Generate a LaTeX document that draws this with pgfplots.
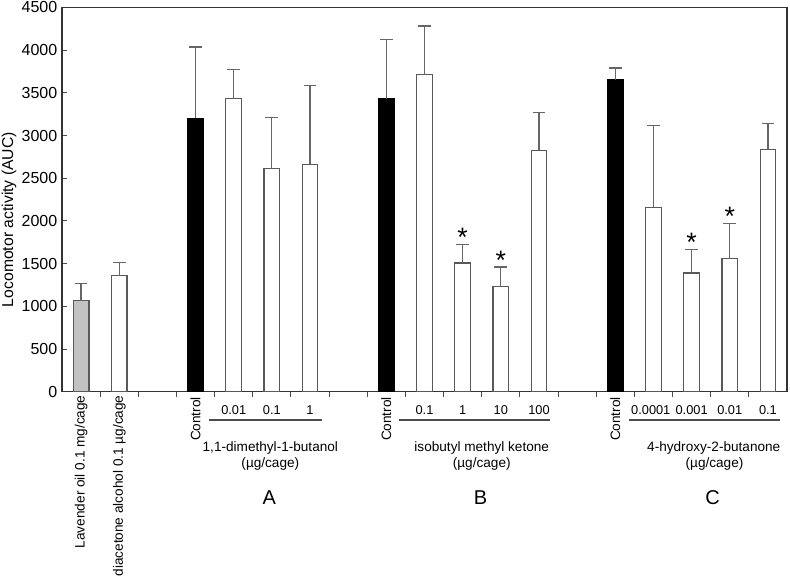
\documentclass[border=0pt]{standalone}
\usepackage{pgfplots}
\pgfplotsset{compat=1.18}
\usepackage{fontspec}
\setmainfont{Liberation Sans}
\begin{document}
\begin{tikzpicture}
\begin{axis}[
  name=ax,
  scale only axis,
  width=543.75pt, height=288.2pt,
  xmin=-0.5, xmax=18.5, ymin=0, ymax=4500,
  ytick={0,500,...,4500},
  xtick={0.5,1.5,...,17.5},
  xticklabels={},
  tick pos=left,
  tick align=inside,
  major tick length=4pt,
  axis line style={black!80, line width=0.8pt},
  tick style={black!70, line width=0.8pt},
  /pgf/number format/assume math mode=true,
  /pgf/number format/1000 sep={},
  yticklabel style={font=\fontsize{12}{14}\selectfont},
  ylabel={Locomotor activity (AUC)},
  ylabel style={font=\fontsize{11.8}{14}\selectfont, at={(axis description cs:-0.073,0.448)}, anchor=center},
  clip=false,
  ybar, bar width=0.41,
  error bars/y dir=plus, error bars/y explicit,
  error bars/error mark=|,
  error bars/error bar style={black!60, line width=0.9pt},
  error bars/error mark options={black!60, line width=0.9pt, mark size=4.8pt},
]
% gray bar (lavender oil)
\addplot[bar shift=0pt, fill=black!24, draw=black!65, line width=0.9pt]
  coordinates {(0,1068) +- (0,204)};
% control bars (black)
\addplot[bar shift=0pt, fill=black, draw=black, line width=0.9pt]
  coordinates {(3,3200) +- (0,838) (8,3432) +- (0,696) (14,3655) +- (0,136)};
% open bars
\addplot[bar shift=0pt, fill=white, draw=black!65, line width=0.9pt]
  coordinates {
  (1,1358) +- (0,156)
  (4,3430) +- (0,346)
  (5,2610) +- (0,606)
  (6,2664) +- (0,924)
  (9,3714) +- (0,570)
  (10,1507) +- (0,215)
  (11,1232) +- (0,228)
  (12,2825) +- (0,443)
  (15,2160) +- (0,962)
  (16,1390) +- (0,273)
  (17,1557) +- (0,415)
  (18,2838) +- (0,304)
  };
% asterisks
\tikzset{al/.style={anchor=base, inner sep=0pt, font=\fontsize{20}{22}\selectfont}}
\node[al] at (axis cs:10,1695) {*};
\node[al] at (axis cs:11,1435) {*};
\node[al] at (axis cs:16,1638) {*};
\node[al] at (axis cs:17,1947) {*};
% rotated category labels
\tikzset{rl/.style={rotate=90, anchor=east, inner sep=0pt, font=\fontsize{10.2}{12}\selectfont}}
\node[rl] at (axis cs:0,-40) {Lavender oil 0.1 mg/cage};
\node[rl] at (axis cs:1,-40) {diacetone alcohol 0.1 µg/cage};
\node[rl] at (axis cs:3,-60) {Control};
\node[rl] at (axis cs:8,-60) {Control};
\node[rl] at (axis cs:14,-60) {Control};
% dose labels
\tikzset{dl/.style={anchor=center, inner sep=0pt, font=\fontsize{9.6}{12}\selectfont}}
\tikzset{gl/.style={anchor=center, inner sep=0pt, font=\fontsize{10.2}{12}\selectfont}}
\node[dl] at (axis cs:4,-215) {0.01};
\node[dl] at (axis cs:5,-215) {0.1};
\node[dl] at (axis cs:6,-215) {1};
\node[dl] at (axis cs:9,-215) {0.1};
\node[dl] at (axis cs:10,-215) {1};
\node[dl] at (axis cs:11,-215) {10};
\node[dl] at (axis cs:12,-215) {100};
\node[dl] at (axis cs:14.93,-215) {0.0001};
\node[dl] at (axis cs:16.0,-215) {0.001};
\node[dl] at (axis cs:17.0,-215) {0.01};
\node[dl] at (axis cs:18,-215) {0.1};
% underlines
\draw[black!70, line width=0.9pt] (axis cs:3.35,-332) -- (axis cs:6.32,-332);
\draw[black!70, line width=0.9pt] (axis cs:8.34,-332) -- (axis cs:12.29,-332);
\draw[black!70, line width=0.9pt] (axis cs:14.37,-332) -- (axis cs:18.32,-332);
% group names
\node[gl] at (axis cs:4.96,-661) {1,1-dimethyl-1-butanol};
\node[gl] at (axis cs:4.96,-849) {(µg/cage)};
\node[gl] at (axis cs:10.5,-661) {isobutyl methyl ketone};
\node[gl] at (axis cs:10.5,-849) {(µg/cage)};
\node[gl] at (axis cs:16.58,-661) {4-hydroxy-2-butanone};
\node[gl] at (axis cs:16.6,-849) {(µg/cage)};
% panel letters
\tikzset{pl/.style={anchor=center, inner sep=0pt, font=\fontsize{15}{18}\selectfont}}
\node[pl] at (axis cs:4.93,-1236) {A};
\node[pl] at (axis cs:10.47,-1236) {B};
\node[pl] at (axis cs:16.55,-1236) {C};
\end{axis}
\pgfresetboundingbox
\path ([xshift=-46.5pt, yshift=-141.2pt]ax.south west) rectangle ([xshift=2.25pt, yshift=5.6pt]ax.north east);
\end{tikzpicture}
\end{document}
